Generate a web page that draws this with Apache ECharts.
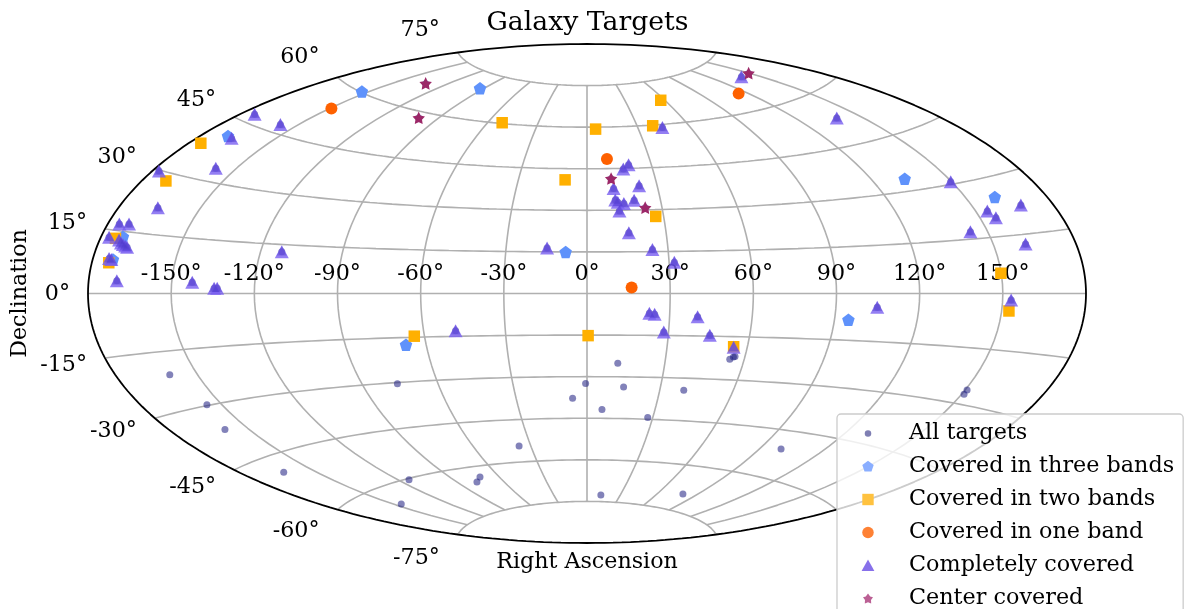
<!DOCTYPE html>
<html>
<head>
<meta charset="utf-8">
<style>html,body{margin:0;padding:0;background:#fff}#c{width:1184px;height:609px}</style>
<script src="https://cdn.jsdelivr.net/npm/echarts@6/dist/echarts.min.js"></script>
</head>
<body>
<div id="c"></div>
<script>
// Values, as [x, y] in the Aitoff plane, in degrees.
const dotsOnly = [[-68.4,-32.6],[-0.5,-32.5],[-5.2,-37.8],[5.4,-41.8],[13.2,-33.7],[11.1,-25.2],[34.9,-34.9],[21.9,-44.7],[51.5,-23.7],[52.8,-22.9],[53.4,-22.7],[-150.5,-29.3],[-137.1,-40.1],[-130.6,-49.1],[-109.4,-64.5],[-64.2,-67.2],[-67.0,-75.9],[-38.6,-66.2],[-39.7,-68.0],[-24.5,-55.0],[5.0,-72.7],[34.6,-72.3],[70.0,-56.1],[137.1,-34.8],[136.0,-36.3]];
const threeBands = [[-129.5,56.8],[-171.0,12.3],[-167.4,20.5],[-81.2,72.9],[-38.6,74.0],[-7.7,15.0],[114.6,41.4],[147.1,34.8],[94.3,-9.5],[-65.3,-18.5]];
const twoBands = [[-139.3,54.2],[-151.9,40.6],[-170.1,19.9],[-172.5,11.1],[26.6,69.7],[3.1,59.3],[23.7,60.5],[-7.9,41.0],[24.8,27.8],[-30.6,61.6],[149.3,7.3],[152.2,-6.3],[-62.3,-15.4],[0.4,-15.2],[52.9,-19.2]];
const oneBand = [[-92.2,66.7],[54.7,72.1],[7.2,48.5],[16.1,2.2]];
const complete = [[-119.9,64.7],[-110.6,61.0],[-128.2,56.0],[-133.9,45.2],[-154.4,44.2],[-154.8,30.9],[-168.7,25.1],[-165.2,25.1],[-172.4,20.3],[-168.8,19.3],[-168.1,18.2],[-167.4,17.7],[-166.6,17.1],[-165.9,16.7],[-172.4,12.6],[-171.6,12.3],[-169.6,4.6],[-142.4,4.1],[-134.5,1.9],[-133.4,1.9],[-110.1,15.1],[55.7,78.2],[27.2,59.9],[15.0,46.4],[13.1,44.9],[18.8,38.9],[9.6,37.9],[10.2,33.7],[11.1,32.9],[13.3,32.5],[17.0,33.6],[11.7,29.8],[15.1,21.9],[-14.4,16.4],[23.6,15.9],[31.5,11.3],[90.1,63.3],[131.2,40.3],[156.5,31.9],[144.4,29.8],[147.5,27.3],[138.3,22.3],[158.2,17.9],[153.0,-2.3],[104.7,-5.0],[-47.4,-13.4],[22.5,-7.1],[24.4,-7.5],[27.7,-13.9],[39.9,-8.4],[44.3,-15.1],[52.9,-19.4]];
const centerOnly = [[58.3,79.4],[8.7,41.4],[21.0,30.9],[-58.2,75.7],[-60.7,63.3]];
const lonTicks = [-150,-120,-90,-60,-30,0,30,60,90,120,150];
const latTicks = [-75,-60,-45,-30,-15,0,15,30,45,60,75];
const legendNames = ['All targets','Covered in three bands','Covered in two bands','Covered in one band','Completely covered','Center covered'];

const FONT = 'DejaVu Serif';
const R = Math.PI/180, D = 180/Math.PI;
function aitoff(lon, lat){
  const l = lon*R/2, p = lat*R, a = Math.acos(Math.cos(p)*Math.cos(l));
  const s = a < 1e-9 ? 1 : Math.sin(a)/a;
  return [2*Math.cos(p)*Math.sin(l)/s*D, Math.sin(p)/s*D];
}
function range(a,b,st){const o=[];for(let v=a;v<=b+1e-9;v+=st)o.push(v);return o;}
function gridLine(pts,color,width,z){
  return {type:'line',data:pts,showSymbol:false,symbol:'none',silent:true,clip:false,z:z,
    lineStyle:{color:color,width:width},animation:false,emphasis:{disabled:true}};
}
const series = [];
latTicks.forEach(la=>series.push(gridLine(range(-180,180,3).map(lo=>aitoff(lo,la)),'#b0b0b0',1.6,1)));
lonTicks.forEach(lo=>series.push(gridLine(range(-75,75,2.5).map(la=>aitoff(lo,la)),'#b0b0b0',1.6,1)));
[-180,180].forEach(lo=>series.push(gridLine(range(-90,90,1).map(la=>aitoff(lo,la)),'#000',1.8,1)));

const labelBase = {show:true,color:'#000',fontFamily:FONT,fontSize:22.2,position:'inside'};
series.push({type:'scatter',silent:true,symbolSize:1,itemStyle:{color:'transparent',opacity:1},z:1,animation:false,
  data:lonTicks.map(lo=>({value:aitoff(lo,0),label:{...labelBase,formatter:lo+'°',align:'center',verticalAlign:'middle',offset:[0,-19]}}))});
series.push({type:'scatter',silent:true,symbolSize:1,itemStyle:{color:'transparent',opacity:1},z:1,animation:false,clip:false,
  data:latTicks.map(la=>({value:aitoff(-180,la),label:{...labelBase,formatter:la+'°',align:'right',verticalAlign:'middle',
    offset:[-18,0.5-24*Math.sin(la*R)]}}))});

const PENT='path://M12 0L24 9.1L19.4 24L4.6 24L0 9.1Z';
const STAR='path://M12 0L15.6 7.4L24 8.9L18.2 14.8L19.6 23L12 19.4L4.4 23L5.8 14.8L0 8.9L8.4 7.4Z';
const allTargets = dotsOnly.concat(threeBands,twoBands,oneBand,complete,centerOnly);
function scat(name,data,symbol,size,color,op,extra){
  return Object.assign({name,type:'scatter',data,symbol,symbolSize:size,z:3,clip:false,animation:false,silent:true,
    itemStyle:{color,opacity:op}},extra||{});
}
series.push(scat(legendNames[0],allTargets,'circle',7,'#1c1c80',0.55));
series.push(scat(legendNames[1],threeBands,PENT,[12.5,12.5],'#5f92fb',1));
series.push(scat(legendNames[2],twoBands,'rect',[11.5,11.5],'#ffb000',1));
series.push(scat(legendNames[3],oneBand,'circle',12,'#fe6100',1));
series.push(scat(legendNames[4],complete,'triangle',[14,13],'#785ef0',0.8));
series.push(scat('inner',complete,'triangle',[10,9.5],'#4a38c8',0.4,{symbolOffset:[0,-1]}));
series.push(scat(legendNames[5],centerOnly,STAR,[9.5,9.5],'#9c2868',1,{itemStyle:{color:'#9c2868',opacity:1,borderColor:'#9c2868',borderWidth:1.5}}));

const PAD='M0 0L0 0M48 24L48 24';
const legendIcons=[
 'path://'+PAD+'M12 8.75A3.25 3.25 0 1 1 12 15.25A3.25 3.25 0 1 1 12 8.75Z',
 'path://'+PAD+'M12 6.3L17.7 10.4L15.5 17L8.5 17L6.3 10.4Z',
 'path://'+PAD+'M6.3 6.3L17.7 6.3L17.7 17.7L6.3 17.7Z',
 'path://'+PAD+'M12 6.25A5.75 5.75 0 1 1 12 17.75A5.75 5.75 0 1 1 12 6.25Z',
 'path://'+PAD+'M12 6L18.4 17.5L5.6 17.5Z',
 'path://'+PAD+'M12 7L14.2 10L17 10.8L15 13.4L15.2 17L12 15.7L8.8 17L9 13.4L7 10.8L9.8 10Z'
];
const legendColors=['#7f7fb3','#8aaeff','#ffc23f','#fe8134','#8770ea','#bb6094'];

const chart = echarts.init(document.getElementById('c'),null,{renderer:'canvas'});
chart.setOption({
  animation:false,
  backgroundColor:'#fff',
  title:{text:'Galaxy Targets',left:587.5,top:10,padding:0,textAlign:'center',textStyle:{fontFamily:FONT,fontSize:26.7,fontWeight:'normal',color:'#000'}},
  grid:{left:88,top:44,width:998,height:499,containLabel:false,outerBoundsMode:'none'},
  xAxis:{type:'value',min:-180,max:180,name:'Right Ascension',nameLocation:'middle',nameGap:8,
    nameTextStyle:{fontFamily:FONT,fontSize:22.2,color:'#000'},
    axisLine:{show:false},axisTick:{show:false},axisLabel:{show:false},splitLine:{show:false}},
  yAxis:{type:'value',min:-90,max:90,name:'Declination',nameLocation:'middle',nameGap:57,
    nameTextStyle:{fontFamily:FONT,fontSize:22.2,color:'#000'},
    axisLine:{show:false},axisTick:{show:false},axisLabel:{show:false},splitLine:{show:false}},
  legend:{
    left:837,top:414,orient:'vertical',selectedMode:false,height:300,
    padding:[7.5,9,6,19],itemGap:9,itemWidth:48,itemHeight:24,
    backgroundColor:'rgba(255,255,255,0.8)',borderColor:'#cccccc',borderWidth:1.3,borderRadius:4,
    textStyle:{fontFamily:FONT,fontSize:22.3,color:'#000'},
    data:legendNames.map((n,i)=>({name:n,icon:legendIcons[i],itemStyle:{color:legendColors[i],opacity:1,borderWidth:0}}))
  },
  series:series
});
</script>
</body>
</html>
